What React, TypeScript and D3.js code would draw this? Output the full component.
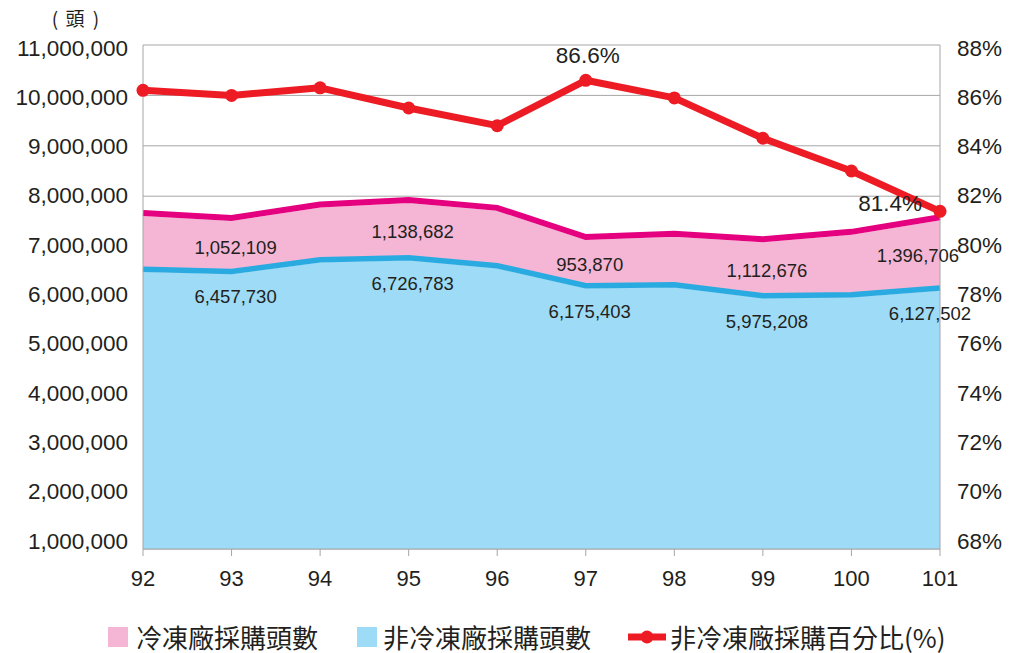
import React from "react";
import * as d3 from "d3";

// years (民國)
const years = ["92", "93", "94", "95", "96", "97", "98", "99", "100", "101"];
// 非冷凍廠採購頭數
const nonFrozen = [6500000, 6457730, 6690000, 6726783, 6570000, 6175403, 6195000, 5975208, 5995000, 6127502];
// 冷凍廠採購頭數
const frozen = [1109000, 1052109, 1086000, 1138682, 1139000, 953870, 998000, 1112676, 1238000, 1396706];
// 非冷凍廠採購百分比
const percent = [86.2, 86.0, 86.3, 85.5, 84.8, 86.6, 85.9, 84.3, 83.0, 81.4];
// which points carry value labels
const labelledYears = ["93", "95", "97", "99", "101"];
const percentLabels = [
  { year: "97", text: "86.6%" },
  { year: "101", text: "81.4%" },
];
const leftTicks = d3.range(1000000, 11000001, 1000000);
const rightTicks = d3.range(68, 89, 2);

const W = 1010;
const H = 653;
const left = 143;
const right = 940;
const top = 45;
const bottom = 549;

const font = "'Liberation Sans', Arial, sans-serif";
const cjk = "'Noto Sans CJK TC', 'Noto Sans CJK SC', sans-serif";
const ink = "#231f20";
const grid = "#a6a6a6";

const App = () => {
  const x = d3.scalePoint().domain(years).range([left, right]);
  const y = d3.scaleLinear().domain([1000000, 11000000]).range([bottom, top]);
  const yPct = d3.scaleLinear().domain([68, 88]).range([bottom, top]);
  // the tick labels sit on a slightly tighter spacing than the gridlines
  const yLab = d3.scaleLinear().domain([1000000, 11000000]).range([541, 48]);
  const yPctLab = d3.scaleLinear().domain([68, 88]).range([541, 48]);

  const rows = years.map((yr, i) => ({ year: yr, nonFrozen: nonFrozen[i], frozen: frozen[i] }));
  const stacked = d3.stack().keys(["nonFrozen", "frozen"])(rows as any);

  const area = d3
    .area<any>()
    .x((d) => x(d.data.year)!)
    .y0((d) => y(Math.max(d[0], 1000000)))
    .y1((d) => y(d[1]));
  const topLine = d3
    .line<any>()
    .x((d) => x(d.data.year)!)
    .y((d) => y(d[1]));
  const pctLine = d3
    .line<number>()
    .x((_, i) => x(years[i])!)
    .y((d) => yPct(d));

  const fmt = d3.format(",");

  return (
    <svg
      width={W}
      height={H}
      style={{ position: "absolute", left: 0, top: 0, background: "#fff" }}
    >
      {/* gridlines */}
      {leftTicks.map((t) => (
        <line key={t} x1={left} x2={right} y1={y(t)} y2={y(t)} stroke={grid} strokeWidth={1} />
      ))}

      {/* areas */}
      <path d={area(stacked[1] as any)!} fill="#f4b6d4" />
      <path d={area(stacked[0] as any)!} fill="#9ddbf6" />
      <path
        d={topLine(stacked[1] as any)!}
        fill="none"
        stroke="#e4007f"
        strokeWidth={6}
        transform="translate(0,-3)"
      />
      <path
        d={topLine(stacked[0] as any)!}
        fill="none"
        stroke="#29abe2"
        strokeWidth={5.5}
        transform="translate(0,-2.5)"
      />

      {/* axes */}
      <line x1={left} x2={left} y1={top} y2={bottom} stroke={grid} />
      <line x1={right} x2={right} y1={top} y2={bottom} stroke={grid} />
      <line x1={left} x2={right} y1={bottom} y2={bottom} stroke={grid} />
      {years.map((yr) => (
        <line key={yr} x1={x(yr)} x2={x(yr)} y1={bottom} y2={bottom + 7} stroke={grid} />
      ))}

      {/* left ticks */}
      {leftTicks.map((t) => (
        <text
          key={t}
          x={128}
          y={yLab(t)}
          textAnchor="end"
          dominantBaseline="central"
          fontFamily={font}
          fontSize={22.5}
          fill={ink}
        >
          {fmt(t)}
        </text>
      ))}
      <g fontFamily={cjk} fontSize={19} fill={ink} textAnchor="middle">
        <text x={55} y={17} dominantBaseline="central">(</text>
        <text x={75} y={17} dominantBaseline="central">頭</text>
        <text x={96} y={17} dominantBaseline="central">)</text>
      </g>

      {/* right ticks */}
      {rightTicks.map((t) => (
        <text
          key={t}
          x={957}
          y={yPctLab(t)}
          dominantBaseline="central"
          fontFamily={font}
          fontSize={22.5}
          fill={ink}
        >
          {t}%
        </text>
      ))}

      {/* x ticks */}
      {years.map((yr) => (
        <text
          key={yr}
          x={x(yr)}
          y={578}
          textAnchor="middle"
          dominantBaseline="central"
          fontFamily={font}
          fontSize={22}
          fill={ink}
        >
          {yr}
        </text>
      ))}

      {/* percentage line */}
      <path d={pctLine(percent)!} fill="none" stroke="#ed1c24" strokeWidth={7} strokeLinejoin="round" />
      {percent.map((p, i) => (
        <circle key={i} cx={x(years[i])} cy={yPct(p)} r={6.5} fill="#ed1c24" />
      ))}

      {/* value labels */}
      {labelledYears.map((yr) => {
        const i = years.indexOf(yr);
        const last = i === years.length - 1;
        const yBlue = y(nonFrozen[i]);
        const yTop = y(nonFrozen[i] + frozen[i]);
        return (
          <g key={yr} fontFamily={font} fontSize={18.5} fill={ink} textAnchor="middle">
            <text x={x(yr)! + (last ? -22 : 4)} y={(yBlue + yTop) / 2} dominantBaseline="central">
              {fmt(frozen[i])}
            </text>
            <text x={x(yr)! + (last ? -10 : 4)} y={yBlue + 23} dominantBaseline="central">
              {fmt(nonFrozen[i])}
            </text>
          </g>
        );
      })}
      {percentLabels.map((l) => {
        const i = years.indexOf(l.year);
        const last = i === years.length - 1;
        return (
          <text
            key={l.year}
            x={last ? x(l.year)! - 18 : x(l.year)! + 2}
            y={last ? yPct(percent[i]) - 8 : yPct(percent[i]) - 25}
            textAnchor={last ? "end" : "middle"}
            dominantBaseline="central"
            fontFamily={font}
            fontSize={22.5}
            fill={ink}
          >
            {l.text}
          </text>
        );
      })}

      {/* legend */}
      <g fontFamily={cjk} fontSize={26} fill={ink}>
        <rect x={108} y={627} width={20} height={20} fill="#f4b6d4" />
        <text x={136} y={636} dominantBaseline="central">冷凍廠採購頭數</text>
        <rect x={357} y={627} width={20} height={20} fill="#9ddbf6" />
        <text x={383} y={636} dominantBaseline="central">非冷凍廠採購頭數</text>
        <line x1={628} x2={666} y1={637} y2={637} stroke="#ed1c24" strokeWidth={7} />
        <circle cx={647} cy={637} r={6.5} fill="#ed1c24" />
        <text x={670} y={636} dominantBaseline="central">非冷凍廠採購百分比(%)</text>
      </g>
    </svg>
  );
};

export default App;
